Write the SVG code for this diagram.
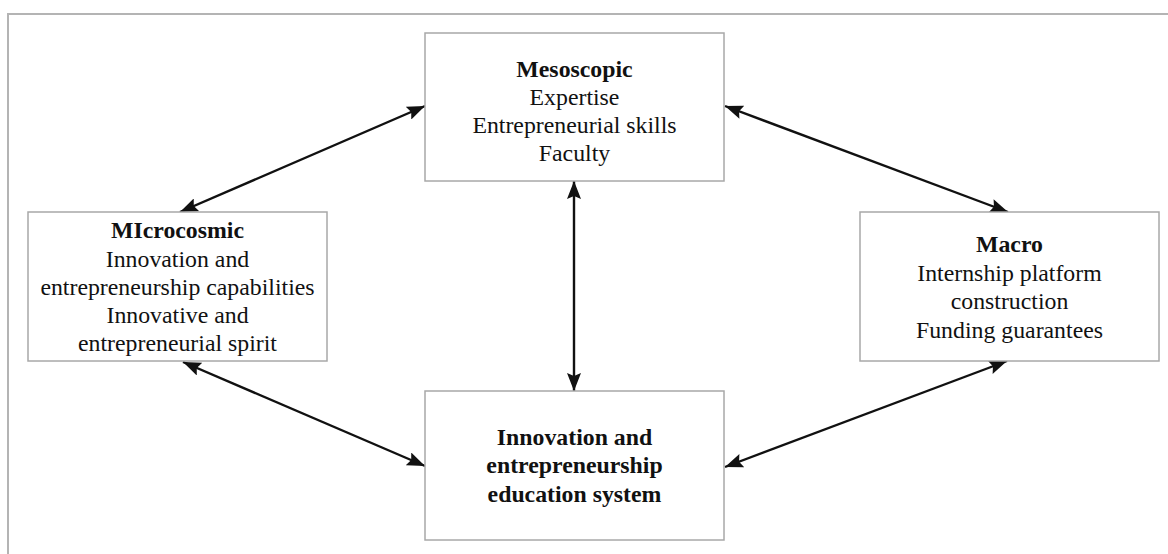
<svg xmlns="http://www.w3.org/2000/svg" width="1168" height="554" viewBox="0 0 1168 554">
  <style>
    .frame { fill: none; stroke: #b4b4b4; stroke-width: 2; }
    .box { fill: #ffffff; stroke: #a8a8a8; stroke-width: 1.5; }
    .txt { font-family: "Liberation Serif", "Times New Roman", serif; font-size: 23.8px; fill: #111; text-anchor: middle; }
    .b { font-weight: bold; }
    .link { stroke: #111; stroke-width: 2.4; fill: none; marker-start: url(#head); marker-end: url(#head); }
  </style>
  <defs>
    <marker id="head" viewBox="0 0 18 14" refX="18" refY="7" markerWidth="18" markerHeight="14" markerUnits="userSpaceOnUse" orient="auto-start-reverse">
      <path d="M0,0 L18,7 L0,14 L3,7 Z" fill="#111"/>
    </marker>
  </defs>

  <rect width="1168" height="554" fill="#ffffff"/>
  <!-- outer frame: top and left edges -->
  <path class="frame" d="M8,554 L8,14 L1168,14"/>

  <g id="connectors">
    <line class="link" x1="180" y1="212" x2="425" y2="106"/>
    <line class="link" x1="725" y1="106" x2="1008" y2="212"/>
    <line class="link" x1="574" y1="181" x2="574" y2="391"/>
    <line class="link" x1="183" y1="362" x2="425" y2="466"/>
    <line class="link" x1="725" y1="467" x2="1007" y2="361"/>
  </g>

  <g id="mesoscopic">
    <rect class="box" x="425" y="33" width="299" height="148"/>
    <text class="txt b" x="574.5" y="77">Mesoscopic</text>
    <text class="txt" x="574.5" y="105">Expertise</text>
    <text class="txt" x="574.5" y="133">Entrepreneurial skills</text>
    <text class="txt" x="574.5" y="161">Faculty</text>
  </g>

  <g id="microcosmic">
    <rect class="box" x="28" y="212" width="299" height="149"/>
    <text class="txt b" x="177.5" y="238">MIcrocosmic</text>
    <text class="txt" x="177.5" y="267">Innovation and</text>
    <text class="txt" x="177.5" y="295">entrepreneurship capabilities</text>
    <text class="txt" x="177.5" y="323">Innovative and</text>
    <text class="txt" x="177.5" y="351">entrepreneurial spirit</text>
  </g>

  <g id="macro">
    <rect class="box" x="860" y="212" width="299" height="149"/>
    <text class="txt b" x="1009.5" y="252">Macro</text>
    <text class="txt" x="1009.5" y="281">Internship platform</text>
    <text class="txt" x="1009.5" y="309">construction</text>
    <text class="txt" x="1009.5" y="338">Funding guarantees</text>
  </g>

  <g id="education-system">
    <rect class="box" x="425" y="391" width="299" height="149"/>
    <text class="txt b" x="574.5" y="445">Innovation and</text>
    <text class="txt b" x="574.5" y="473">entrepreneurship</text>
    <text class="txt b" x="574.5" y="502">education system</text>
  </g>
</svg>
